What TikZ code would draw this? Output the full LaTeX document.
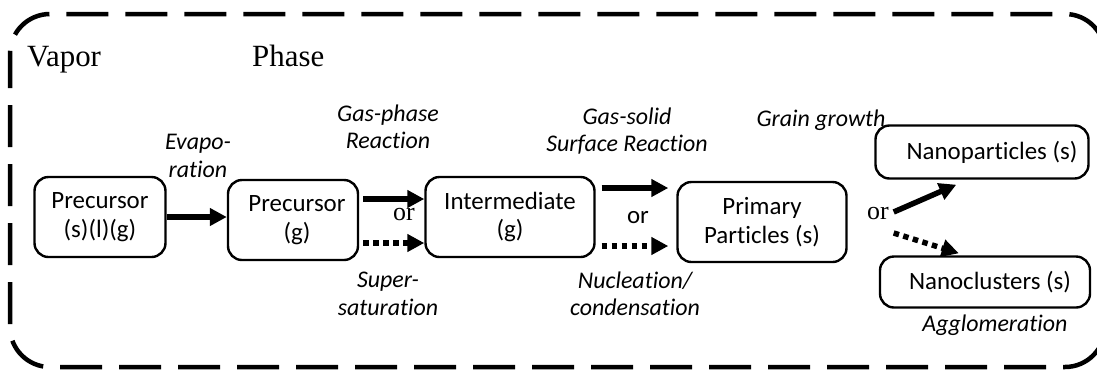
\documentclass[tikz,border=0pt]{standalone}
\usepackage{fontspec}
\setmainfont[Ligatures={NoCommon}]{Carlito}
\newfontfamily\serifface{Liberation Serif}
\usetikzlibrary{arrows.meta,calc}
\tikzset{
  stage/.style={draw, line width=2.4bp, rounded corners=14bp, align=center,
    inner sep=0pt, font=\fontsize{25}{29}\selectfont},
  note/.style={align=center, inner sep=0pt, font=\fontsize{24}{27.5}\selectfont\itshape},
  orword/.style={inner sep=0pt, font=\fontsize{26}{28}\selectfont\serifface},
  arr/.style={line width=5.5bp, -{Triangle[length=17bp,width=17bp]}},
  dotarr/.style={line width=5.5bp, dash pattern=on 5.5bp off 4.5bp,
    -{Triangle[length=17bp,width=17bp]}},
  frame/.style={line width=4.5bp, dash pattern=on 42bp off 17bp, dash phase=8bp,
    rounded corners=40bp},
  heading/.style={anchor=base west, inner sep=0pt, font=\fontsize{31}{33}\selectfont\serifface}
}
\begin{document}
\begin{tikzpicture}[x=1bp,y=-1bp]
\useasboundingbox (0,0) rectangle (1097,371);
% outer dashed frame of the vapour-phase region
\draw[frame] (10,14) rectangle (1105,367);
% heading
\node[heading] (vapor) at (27,66) {Vapor};
\node[heading] (phase) at (252,66) {Phase};
% stages
\node[stage, minimum width=131bp, minimum height=80bp] (p1) at (100,217) {Precursor\\(s)(l)(g)};
\node[stage, minimum width=130bp, minimum height=80bp] (p2) at (293,220) {\hspace*{8bp}Precursor\\\hspace*{8bp}(g)};
\node[stage, minimum width=169bp, minimum height=80bp] (im) at (510,217) {Intermediate\\(g)};
\node[stage, minimum width=169bp, minimum height=80bp] (pp) at (762,222) {Primary\\Particles (s)};
\node[stage, minimum width=213bp, minimum height=53bp] (np) at (982,152) {\hspace*{20bp}Nanoparticles (s)};
\node[stage, minimum width=210bp, minimum height=51bp] (nc) at (985,282) {\hspace*{10bp}Nanoclusters (s)};
% connectors
\draw[arr] (p1.east) -- (p2.west |- p1.east);
\draw[arr] ($(p2.east)+(4,-21)$) -- ($(im.west)+(0,-18)$);
\draw[dotarr] ($(p2.east)+(4,23)$) -- ($(im.west)+(0,26)$);
\draw[arr] ($(im.east)+(6,-29)$) -- ($(pp.west)+(-8,-34)$);
\draw[dotarr] ($(im.east)+(6,29)$) -- ($(pp.west)+(-8,24)$);
\draw[arr] ($(pp.east)+(46,-10)$) -- ($(np.south west)+(82,5)$);
\draw[dotarr] ($(pp.east)+(46,11)$) -- ($(nc.north west)+(80,-2)$);
% alternatives
\node[orword] (or1) at (404,215) {or};
\node[inner sep=0pt, font=\fontsize{25}{28}\selectfont] (or2) at (638,218) {or};
\node[orword] (or3) at (878,214) {or};
% process labels
\node[note] (evap) at (198,156) {Evapo-\\ration};
\node[note] (gpr) at (388,127) {Gas-phase\\Reaction};
\node[note] (sup) at (388,294) {Super-\\saturation};
\node[note] (gsr) at (627,131) {Gas-solid\\Surface Reaction};
\node[note] (nuc) at (635,294) {Nucleation/\\condensation};
\node[note] (grain) at (821,120) {Grain growth};
\node[note] (agg) at (995,325) {Agglomeration};
\end{tikzpicture}
\end{document}
